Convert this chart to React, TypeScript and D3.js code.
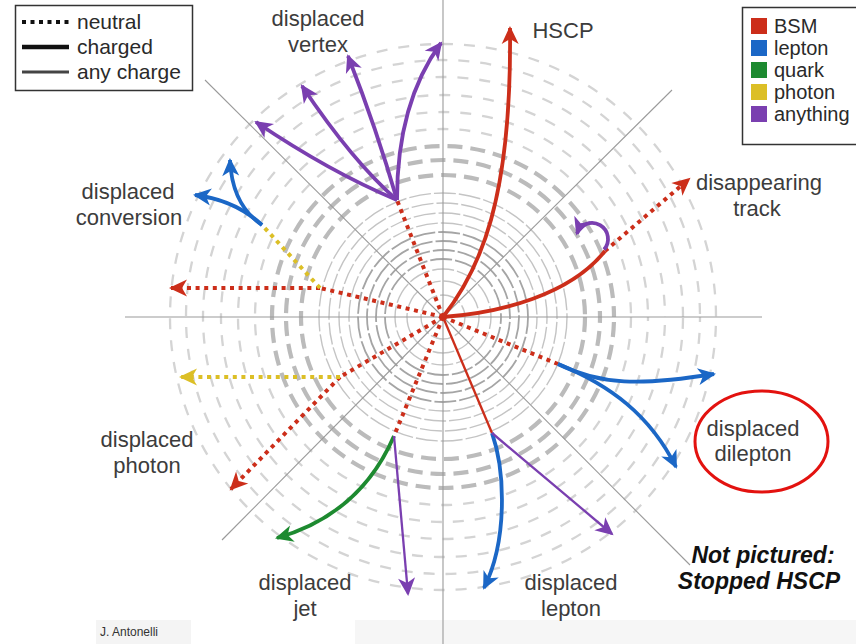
import React from "react";
import * as d3 from "d3";

const W = 856;
const H = 644;

// particle colours
const particleNames = ["BSM", "lepton", "quark", "photon", "anything"];
const particleColors = ["#cc2e1a", "#1b67c6", "#1d8a30", "#dcbf26", "#7a3fb0"];
const chargeTypes = ["neutral", "charged", "any charge"];

// detector rings (radius in detector units)
const innerRings = [22, 36, 48, 58, 67, 76, 85, 94, 104, 114, 124];
const thickRings = [142, 157, 171];
const outerRings = [188, 205, 222, 240, 257, 273];

// axis/spoke end points (detector units, y up)
const spokeEnds = [
  [-318, 0], [319, 0], [0, 317], [0, -327],
  [-238, 237], [229, 227], [-221, -223], [247, -248],
];

// tracks: [particle, style, control points, arrow]
type Seg = [string, string, number[][], boolean];

const hscpTrack: Seg[] = [
  ["BSM", "solid", [[0, 0], [37, 47], [69, 117], [67, 289]], true],
];
const disappearingTrack: Seg[] = [
  ["BSM", "solid", [[0, 0], [57, 4], [127, 22], [162, 66]], false],
  ["BSM", "dotted", [[162, 66], [246, 138]], true],
];
// curl: centre, radius, start angle, end angle (screen radians)
const curlArc = [149, 78, 16, 0.72, -2.8];

const dileptonTracks: Seg[] = [
  ["BSM", "dotted", [[0, 0], [115, -47]], false],
  ["lepton", "solid", [[115, -47], [157, -68], [197, -69], [271, -57]], true],
  ["lepton", "solid", [[115, -47], [167, -68], [207, -98], [233, -150]], true],
];
const leptonTracks: Seg[] = [
  ["BSM", "thin", [[0, 0], [49, -116]], false],
  ["lepton", "solid", [[49, -116], [62, -153], [65, -223], [41, -271]], true],
  ["anything", "thin", [[49, -116], [169, -217]], true],
];
const jetTracks: Seg[] = [
  ["BSM", "dotted", [[0, 0], [-49, -119]], false],
  ["quark", "solid", [[-49, -119], [-68, -163], [-103, -203], [-166, -221]], true],
  ["anything", "thin", [[-49, -119], [-35, -277]], true],
];
const photonTracks: Seg[] = [
  ["BSM", "dotted", [[0, 0], [-103, -60]], false],
  ["BSM", "dotted", [[-103, -60], [-212, -172]], true],
  ["photon", "dotted", [[-103, -60], [-262, -60]], true],
];
const conversionTracks: Seg[] = [
  ["BSM", "dotted", [[0, 0], [-123, 29]], false],
  ["BSM", "dotted", [[-123, 29], [-272, 29]], true],
  ["photon", "dotted", [[-123, 29], [-181, 92]], false],
  ["lepton", "solid", [[-181, 92], [-208, 117], [-248, 122]], true],
  ["lepton", "solid", [[-181, 92], [-211, 112], [-213, 157]], true],
];
const vertexTracks: Seg[] = [
  ["BSM", "dotted", [[0, 0], [-46, 117]], false],
  ["anything", "solid", [[-46, 117], [-113, 145], [-187, 195]], true],
  ["anything", "solid", [[-46, 117], [-90, 155], [-141, 231]], true],
  ["anything", "solid", [[-46, 117], [-66, 187], [-95, 261]], true],
  ["anything", "solid", [[-46, 117], [-46, 177], [-33, 232], [-2, 274]], true],
];

const allTracks = [
  ...photonTracks, ...conversionTracks, ...jetTracks, ...vertexTracks,
  ...dileptonTracks, ...leptonTracks, ...disappearingTrack, ...hscpTrack,
];

const labels: [string, number, number][] = [
  ["displaced", 318, 26], ["vertex", 318, 52],
  ["HSCP", 563, 38],
  ["disappearing", 759, 190], ["track", 757, 216],
  ["displaced", 128, 199], ["conversion", 129, 225],
  ["displaced", 147, 447], ["photon", 147, 473],
  ["displaced", 305, 590], ["jet", 305, 616],
  ["displaced", 571, 590], ["lepton", 571, 616],
  ["displaced", 753, 436], ["dilepton", 753, 461],
];

const xS = d3.scaleLinear().domain([-300, 300]).range([143, 743]);
const yS = d3.scaleLinear().domain([-300, 300]).range([617, 17]);
const rS = d3.scaleLinear().domain([0, 300]).range([0, 300]);

const colorOf = (p: string) => particleColors[particleNames.indexOf(p)];

function segPath(pts: number[][]) {
  const P = pts.map(([x, y]) => [xS(x), yS(y)]);
  const p = d3.path();
  p.moveTo(P[0][0], P[0][1]);
  if (P.length === 2) p.lineTo(P[1][0], P[1][1]);
  else if (P.length === 3) p.quadraticCurveTo(P[1][0], P[1][1], P[2][0], P[2][1]);
  else p.bezierCurveTo(P[1][0], P[1][1], P[2][0], P[2][1], P[3][0], P[3][1]);
  return p.toString();
}

const styleProps: Record<string, any> = {
  dotted: { strokeWidth: 4, strokeDasharray: "4 4.6" },
  solid: { strokeWidth: 3.8 },
  thin: { strokeWidth: 2.3 },
};

const FONT = "'Liberation Sans', Arial, Helvetica, sans-serif";

export default function App() {
  const cx = xS(0);
  const cy = yS(0);
  const curl = d3.path();
  const [ccx, ccy, cr, a0, a1] = curlArc;
  curl.arc(xS(ccx), yS(ccy), rS(cr), a0, a1, true);
  return (
    <svg
      width={W}
      height={H}
      style={{ position: "absolute", left: 0, top: 0, display: "block", background: "#fff" }}
      fontFamily={FONT}
    >
      <defs>
        {particleNames.map((p, i) => (
          <marker
            key={p}
            id={`arr-${p}`}
            viewBox="-22 -13 26 26"
            refX={0}
            refY={0}
            markerWidth={26}
            markerHeight={26}
            markerUnits="userSpaceOnUse"
            orient="auto"
          >
            <path d="M2,0 L-16,-8.5 L-11,0 L-16,8.5 Z" fill={particleColors[i]} />
          </marker>
        ))}
      </defs>

      {/* bottom light band */}
      <rect x={355} y={620} width={W - 355} height={H - 620} fill="#f6f6f6" />
      <rect x={96} y={620} width={95} height={H - 620} fill="#f4f4f4" />

      {/* rings */}
      <g fill="none">
        {outerRings.map((r, i) => (
          <circle key={"o" + r} cx={cx} cy={cy} r={rS(r)} stroke="#d4d4d4" strokeWidth={2.3}
            strokeDasharray="11 11" strokeDashoffset={i * 7} />
        ))}
        {thickRings.map((r, i) => (
          <circle key={"t" + r} cx={cx} cy={cy} r={rS(r)} stroke="#bbbbbb" strokeWidth={4.2}
            strokeDasharray="15 8" strokeDashoffset={i * 9} />
        ))}
        {innerRings.map((r, i) => (
          <circle key={"i" + r} cx={cx} cy={cy} r={rS(r)}
            stroke={i >= 3 && i <= 6 ? "#a5a5a5" : "#c4c4c4"}
            strokeWidth={i >= 3 && i <= 6 ? 1.8 : 1.4}
            strokeDasharray="22 3" strokeDashoffset={i * 5} />
        ))}
      </g>

      {/* spokes */}
      <g stroke="#9a9a9a" strokeWidth={1.1}>
        {spokeEnds.map(([x, y], i) => (
          <line key={i} x1={cx} y1={cy} x2={xS(x)} y2={yS(y)} />
        ))}
      </g>

      {/* tracks */}
      <g fill="none">
        {allTracks.map(([p, st, pts, arrow], i) => (
          <path key={i} d={segPath(pts)} stroke={colorOf(p)} {...styleProps[st]}
            markerEnd={arrow ? `url(#arr-${p})` : undefined} />
        ))}
        <path d={curl.toString()} stroke={colorOf("anything")} strokeWidth={3.8}
          markerEnd="url(#arr-anything)" />
      </g>

      {/* labels */}
      <g fontSize={22} fill="#3c3c3c" textAnchor="middle">
        {labels.map(([t, x, y], i) => (
          <text key={i} x={x} y={y}>{t}</text>
        ))}
      </g>
      <ellipse cx={761.5} cy={441.5} rx={66.5} ry={50.5} fill="none" stroke="#e3120f" strokeWidth={3} />
      <g fontSize={23} fill="#111" textAnchor="middle" fontWeight="bold" fontStyle="italic">
        <text x={763} y={563}>Not pictured:</text>
        <text x={759} y={589}>Stopped HSCP</text>
      </g>
      <text x={100} y={636} fontSize={12} fill="#333">J. Antonelli</text>

      {/* charge legend */}
      <rect x={15.5} y={5.5} width={177} height={85} fill="#fff" stroke="#333" strokeWidth={1.5} />
      {chargeTypes.map((t, i) => (
        <g key={t}>
          <line x1={22} x2={69} y1={22 + i * 25} y2={22 + i * 25} stroke={i === 2 ? "#444" : "#111"}
            strokeWidth={i === 0 ? 4 : i === 1 ? 4.5 : 3}
            strokeDasharray={i === 0 ? "4 4.5" : undefined} />
          <text x={77} y={29 + i * 25} fontSize={21} fill="#2a2a2a">{t}</text>
        </g>
      ))}

      {/* particle legend */}
      <rect x={742.5} y={7.5} width={130} height={137} fill="#fff" stroke="#333" strokeWidth={1.5} />
      {particleNames.map((p, i) => (
        <g key={p}>
          <rect x={751} y={18 + i * 22} width={16} height={16} fill={particleColors[i]} />
          <text x={774} y={33 + i * 22} fontSize={20} fill="#2a2a2a">{p}</text>
        </g>
      ))}
    </svg>
  );
}
